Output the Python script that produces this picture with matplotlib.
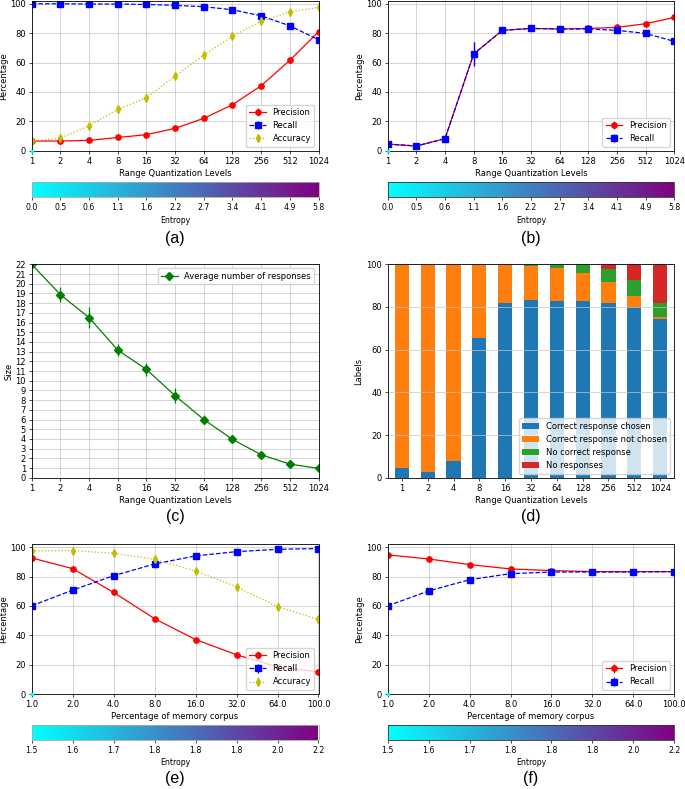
import numpy as np
import matplotlib.pyplot as plt
from matplotlib.colors import LinearSegmentedColormap, Normalize
from matplotlib.cm import ScalarMappable

# x categories
levels = ['1', '2', '4', '8', '16', '32', '64', '128', '256', '512', '1024']
corpus = ['1.0', '2.0', '4.0', '8.0', '16.0', '32.0', '64.0', '100.0']
entropy_levels = ['0.0', '0.5', '0.6', '1.1', '1.6', '2.2', '2.7', '3.4', '4.1', '4.9', '5.8']
entropy_corpus = ['1.5', '1.6', '1.7', '1.8', '1.8', '1.8', '2.0', '2.2']

# (a) quantization levels, all responses
prec_a = [6.6, 6.6, 7.0, 9.0, 10.9, 15.2, 22.0, 31.3, 44.2, 61.5, 81.0]
prec_a_err = [0.5, 0.5, 0.6, 0.7, 0.8, 0.9, 1.0, 1.0, 1.2, 1.5, 2.0]
rec_a = [100.0, 100.0, 99.8, 99.8, 99.5, 98.9, 98.0, 95.9, 91.8, 85.0, 75.5]
rec_a_err = [0.2, 0.2, 0.3, 0.3, 0.4, 0.5, 0.6, 0.8, 1.0, 1.2, 1.5]
acc_a = [6.6, 8.6, 17.0, 28.1, 36.0, 50.8, 65.0, 78.0, 88.0, 94.5, 97.5]
acc_a_err = [1.0, 1.5, 2.0, 2.5, 2.5, 2.5, 2.0, 1.5, 1.0, 0.8, 0.6]

# (b) quantization levels, chosen response
prec_b = [4.5, 3.2, 8.2, 65.8, 81.9, 83.2, 82.8, 83.2, 83.9, 86.4, 90.7]
rec_b = [4.5, 3.2, 8.2, 65.8, 81.9, 83.2, 82.8, 82.8, 81.9, 79.8, 74.4]
err_b = [1.0, 0.8, 1.5, 8.0, 1.0, 0.8, 0.8, 0.8, 0.8, 0.8, 0.8]

# (c) average number of responses
size_c = [22.0, 18.87, 16.5, 13.16, 11.17, 8.45, 6.0, 3.95, 2.37, 1.4, 0.96]
size_c_err = [0.1, 0.75, 1.1, 0.6, 0.65, 0.8, 0.5, 0.3, 0.2, 0.15, 0.1]

# (d) label breakdown
chosen = [4.4, 2.8, 7.8, 65.6, 81.7, 83.3, 83.0, 82.7, 82.0, 80.0, 74.4]
not_chosen = [95.6, 97.2, 92.2, 34.2, 18.0, 15.9, 15.1, 13.2, 9.9, 5.0, 0.9]
no_correct = [0.0, 0.0, 0.0, 0.2, 0.3, 0.8, 1.9, 3.6, 6.1, 7.8, 6.7]
no_response = [0.0, 0.0, 0.0, 0.0, 0.0, 0.0, 0.0, 0.5, 2.0, 7.2, 18.0]

# (e) memory corpus, all responses
prec_e = [92.7, 85.4, 69.2, 51.3, 37.1, 26.7, 18.5, 15.0]
rec_e = [60.1, 70.8, 80.6, 88.6, 94.1, 97.0, 98.6, 99.1]
acc_e = [97.5, 97.7, 95.9, 91.8, 83.8, 73.1, 59.5, 50.8]
err_e = [1.0, 1.0, 1.0, 1.0, 1.0, 1.0, 1.0, 1.0]

# (f) memory corpus, chosen response
prec_f = [94.8, 92.0, 88.2, 85.2, 84.1, 83.4, 83.4, 83.4]
rec_f = [60.1, 70.2, 77.9, 82.0, 83.1, 83.1, 83.1, 83.4]
err_f = [0.8, 0.8, 0.8, 0.8, 0.8, 0.8, 0.8, 0.8]

plt.rcParams.update({
    'font.size': 6,
    'axes.linewidth': 0.6,
    'xtick.major.size': 2.1, 'ytick.major.size': 2.1,
    'xtick.major.width': 0.5, 'ytick.major.width': 0.5,
    'xtick.major.pad': 2.1, 'ytick.major.pad': 2.1,
    'axes.labelpad': 2.4,
    'lines.linewidth': 0.9,
    'lines.markersize': 3.8,
    'grid.linewidth': 0.5,
    'grid.color': '#c4c4c4',
    'legend.fontsize': 6,
})

cmap = LinearSegmentedColormap.from_list('entropy', ['cyan', 'purple'])

W, H = 685, 789
fig = plt.figure(figsize=(W / 100, H / 100), dpi=100)


def box(left, top, right, bottom):
    return [left / W, 1 - bottom / H, (right - left) / W, (bottom - top) / H]


def metric_panel(rect, cbar_rect, labels, entropy, series, xlabel, outline):
    ax = fig.add_axes(box(*rect))
    x = np.arange(len(labels))
    for vals, err, color, ls, marker, name in series:
        ax.errorbar(x, vals, yerr=err, color=color, ls=ls, marker=marker, label=name)
    ax.scatter([0], [0], c=[0], cmap=cmap, s=3, marker='s', clip_on=False, zorder=5)
    ax.set_xlim(0, len(labels) - 1)
    ax.set_ylim(0, 102)
    ax.set_xticks(x, labels)
    ax.set_yticks(range(0, 101, 20))
    ax.grid(True)
    ax.set_xlabel(xlabel)
    ax.set_ylabel('Percentage', labelpad=1.2)
    ax.legend(loc='lower right')

    cax = fig.add_axes(box(*cbar_rect))
    sm = ScalarMappable(norm=Normalize(0, len(entropy) - 1), cmap=cmap)
    cb = fig.colorbar(sm, cax=cax, orientation='horizontal', ticks=range(len(entropy)))
    cb.ax.set_xticklabels(entropy, fontsize=5.6)
    cb.set_label('Entropy', fontsize=5.6, labelpad=2.5)
    cb.outline.set_edgecolor(outline)
    return ax


red = ('r', '-', 'o', 'Precision')
blue = ('b', '--', 's', 'Recall')
yel = ('y', ':', 'd', 'Accuracy')

metric_panel((31.7, 0.8, 318.5, 150.7), (31.7, 182.3, 318.5, 197.3), levels, entropy_levels,
             [(prec_a, prec_a_err) + red, (rec_a, rec_a_err) + blue, (acc_a, acc_a_err) + yel],
             'Range Quantization Levels', '#aaaaaa')
metric_panel((387.7, 0.8, 674.3, 150.7), (387.7, 182.3, 674.3, 197.3), levels, entropy_levels,
             [(prec_b, err_b) + red, (rec_b, err_b) + blue],
             'Range Quantization Levels', '#333333')
metric_panel((31.7, 544.3, 318.5, 694.0), (31.7, 725.3, 318.5, 740.0), corpus, entropy_corpus,
             [(prec_e, err_e) + red, (rec_e, err_e) + blue, (acc_e, err_e) + yel],
             'Percentage of memory corpus', '#aaaaaa')
metric_panel((387.7, 544.3, 674.3, 694.0), (387.7, 725.3, 674.3, 740.0), corpus, entropy_corpus,
             [(prec_f, err_f) + red, (rec_f, err_f) + blue],
             'Percentage of memory corpus', '#333333')

# (c)
ax = fig.add_axes(box(31.7, 264.3, 318.5, 477.7))
x = np.arange(len(levels))
ax.errorbar(x, size_c, yerr=size_c_err, color='g', marker='D', ms=4.2,
            label='Average number of responses')
ax.set_xlim(0, len(levels) - 1)
ax.set_ylim(0, 22)
ax.set_xticks(x, levels)
ax.set_yticks(range(0, 23))
ax.grid(True)
ax.set_xlabel('Range Quantization Levels')
ax.set_ylabel('Size', labelpad=1.2)
ax.legend(loc='upper right')

# (d)
ax = fig.add_axes(box(387.7, 264.3, 674.3, 477.7))
bottom = np.zeros(len(levels))
for vals, name in [(chosen, 'Correct response chosen'), (not_chosen, 'Correct response not chosen'),
                   (no_correct, 'No correct response'), (no_response, 'No responses')]:
    ax.bar(x, vals, 0.55, bottom=bottom, label=name)
    bottom += np.array(vals)
ax.set_xlim(-0.55, 10.55)
ax.set_ylim(0, 100)
ax.set_xticks(x, levels)
ax.yaxis.grid(True)
ax.set_xlabel('Range Quantization Levels')
ax.set_ylabel('Labels')
ax.legend(loc='lower right')

for cx, cy, txt in [(175, 238, '(a)'), (531, 238, '(b)'), (175, 517, '(c)'),
                    (531, 517, '(d)'), (175, 779, '(e)'), (531, 779, '(f)')]:
    fig.text(cx / W, 1 - cy / H, txt, ha='center', va='center', fontsize=11.5,
             family='Liberation Sans')

fig.savefig('out.png', dpi=100)
